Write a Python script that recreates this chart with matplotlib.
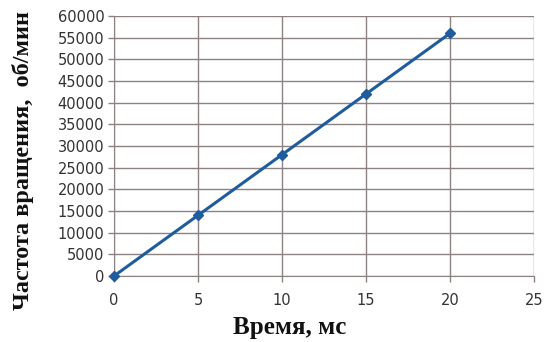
import matplotlib.pyplot as plt

# Данные
time_ms = [0, 5, 10, 15, 20]
rpm = [0, 14000, 28000, 42000, 56000]
x_ticks = [0, 5, 10, 15, 20, 25]
y_ticks = list(range(0, 60001, 5000))

fig = plt.figure(figsize=(5.45, 3.42), dpi=100)
fig.patch.set_facecolor('white')
ax = fig.add_axes([114 / 545, 1 - 276 / 342, (534 - 114) / 545, (276 - 16) / 342])

ax.plot(time_ms, rpm, color='#1f5c9e', linewidth=2.2, marker='D', markersize=5.5,
        clip_on=False, zorder=3)

ax.set_xlim(0, 25)
ax.set_ylim(0, 60000)
ax.set_xticks(x_ticks)
ax.set_yticks(y_ticks)

# Сетка
ax.grid(True, color='#8c8282', linewidth=1)
ax.set_axisbelow(True)
for spine in ax.spines.values():
    spine.set_visible(False)
ax.spines['left'].set_visible(True)
ax.spines['left'].set_color('#8c8282')
ax.spines['bottom'].set_visible(True)
ax.spines['bottom'].set_color('#8c8282')

ax.tick_params(axis='both', labelsize=10.5, colors='#8c8282', labelcolor='#333333',
               length=4, width=1)
ax.tick_params(axis='x', pad=8)
ax.tick_params(axis='y', pad=3)

ax.set_xlabel('Время, мс', fontsize=18, fontweight='bold', family='Liberation Serif',
              color='#111111')
ax.set_ylabel('Частота вращения,  об/мин', fontsize=17.5, fontweight='bold',
              family='Liberation Serif', color='#111111')
ax.xaxis.set_label_coords(0.419, -0.155)
ax.yaxis.set_label_coords(-0.19, 0.446)

fig.savefig('out.png', dpi=100, facecolor='white')
